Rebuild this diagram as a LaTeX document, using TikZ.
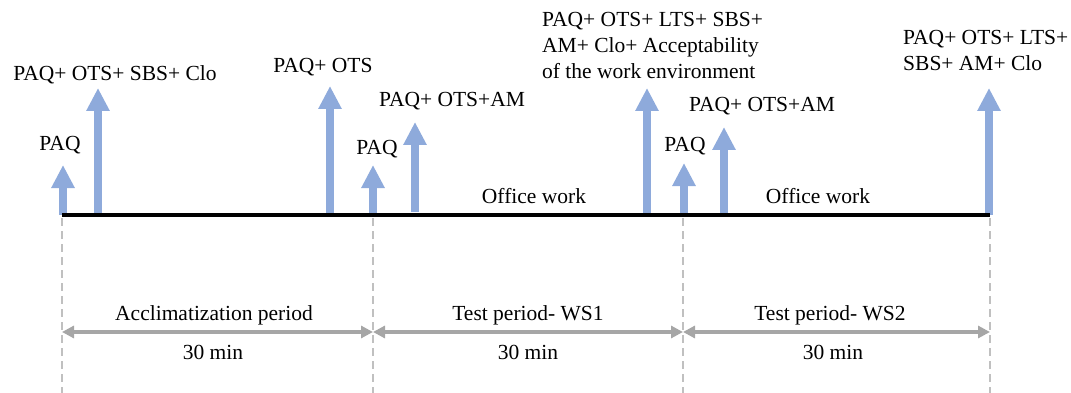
\documentclass[tikz,border=0pt]{standalone}
\usepackage{fontspec}
\setmainfont{Liberation Serif}
\usetikzlibrary{arrows.meta}
\definecolor{mblue}{HTML}{8EAADB}
\definecolor{pgray}{HTML}{A6A6A6}
\definecolor{dgray}{HTML}{C0C0C0}
\tikzset{
  lbl/.style={inner sep=0pt, font=\fontsize{21.5}{26}\selectfont, anchor=base},
  % multi-line labels: anchored at the baseline of their last line
  mlbl/.style={lbl, align=left, anchor=base west},
  measure/.style={mblue, line width=7.5pt, -{Triangle[length=23pt,width=22pt]}},
  timeline/.style={black, line width=4.5pt},
  guide/.style={dgray, line width=2pt, dash pattern=on 8pt off 5pt},
  span/.style={pgray, line width=4pt, {Triangle[length=12pt,width=12pt]}-{Triangle[length=12pt,width=12pt]}}
}
\begin{document}
\begin{tikzpicture}[x=1pt,y=-1pt]
\useasboundingbox (0,0) rectangle (1071,393);
% period boundaries on the timeline
\coordinate (t0) at (62,215);
\coordinate (t1) at (373,215);
\coordinate (t2) at (683,215);
\coordinate (t3) at (990,215);
\coordinate (b0) at (62,393);
\coordinate (b1) at (373,393);
\coordinate (b2) at (683,393);
\coordinate (b3) at (990,393);
% dashed guides
\draw[guide] (t0) ++(0,3) -- (b0);
\draw[guide] (t1) ++(0,3) -- (b1);
\draw[guide] (t2) ++(0,3) -- (b2);
\draw[guide] (t3) ++(0,3) -- (b3);
% measurement arrows
\coordinate (m1) at (63,215);  \coordinate (m1t) at (63,165);
\coordinate (m2) at (98,217);  \coordinate (m2t) at (98,88);
\coordinate (m3) at (330,213); \coordinate (m3t) at (330,86);
\coordinate (m4) at (373,215); \coordinate (m4t) at (373,165);
\coordinate (m5) at (415,212); \coordinate (m5t) at (415,122);
\coordinate (m6) at (647,215); \coordinate (m6t) at (647,88);
\coordinate (m7) at (684,213); \coordinate (m7t) at (684,163);
\coordinate (m8) at (724,215); \coordinate (m8t) at (724,127);
\coordinate (m9) at (989,215); \coordinate (m9t) at (989,88);
\foreach \i in {1,...,9} \draw[measure] (m\i) -- (m\i t);
% timeline
\draw[timeline] (t0) -- (t3);
% labels of the measurements
\node[lbl] (l1) at (60,150) {PAQ};
\node[lbl] (l2) at (115,81) {PAQ+ OTS+ SBS+ Clo};
\node[lbl] (l3) at (323,73) {PAQ+ OTS};
\node[lbl] (l4) at (377,154) {PAQ};
\node[lbl] (l5) at (452,107) {PAQ+ OTS+AM};
\node[mlbl] (l6) at (542,79) {PAQ+ OTS+ LTS+ SBS+\\AM+ Clo+ Acceptability\\of the work environment};
\node[lbl] (l7) at (685,152) {PAQ};
\node[lbl] (l8) at (762,112) {PAQ+ OTS+AM};
\node[mlbl] (l9) at (903,71) {PAQ+ OTS+ LTS+\\SBS+ AM+ Clo};
\node[lbl] (w1) at (534,204) {Office work};
\node[lbl] (w2) at (818,204) {Office work};
% period spans
\coordinate (s0) at (62,332);
\coordinate (s1) at (373,332);
\coordinate (s2) at (683,332);
\coordinate (s3) at (990,332);
\draw[span] (s0) -- (s1);
\draw[span] (s1) -- (s2);
\draw[span] (s2) -- (s3);
\node[lbl] (p1) at (214,320) {Acclimatization\ period};
\node[lbl] (p2) at (528,320) {Test period- WS1};
\node[lbl] (p3) at (830,320) {Test period- WS2};
\node[lbl] (d1) at (213,359) {30 min};
\node[lbl] (d2) at (528,359) {30 min};
\node[lbl] (d3) at (833,359) {30 min};
\end{tikzpicture}
\end{document}
